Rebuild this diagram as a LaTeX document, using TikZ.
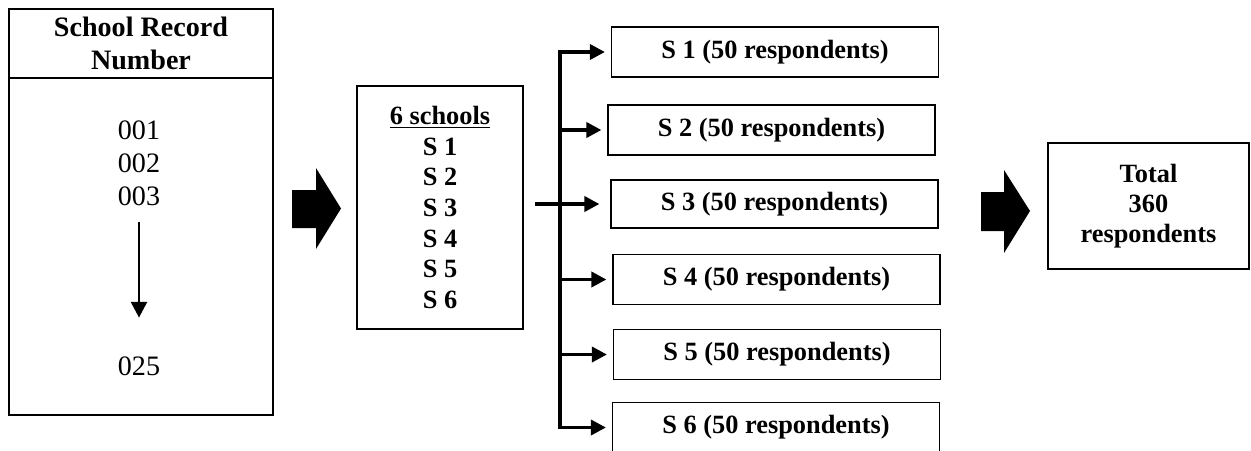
\documentclass[tikz,border=0pt]{standalone}
\usepackage{fontspec}
\setmainfont{Liberation Serif}
\usepackage{tikz}
\usetikzlibrary{arrows.meta,positioning,calc}
\tikzset{
  recbox/.style={rectangle,draw=black,line width=1pt,minimum width=5.28cm,
    inner sep=0pt,align=center},
  numtext/.style={inner sep=0pt,align=center,font=\fontsize{16}{18.7}\selectfont},
  schbox/.style={rectangle,draw=black,line width=0.6pt,minimum width=3.32cm,
    minimum height=4.86cm,align=center,font=\fontsize{15}{17.4}\selectfont\bfseries},
  resbox/.style={rectangle,draw=black,line width=0.7pt,minimum width=6.54cm,
    minimum height=1cm,font=\fontsize{15}{17}\selectfont\bfseries},
  totbox/.style={rectangle,draw=black,line width=0.7pt,minimum width=4.02cm,
    minimum height=2.52cm,align=center,font=\fontsize{15}{17}\selectfont\bfseries},
  brancharr/.style={-{Triangle[length=8.5pt,width=8.5pt]},line width=2pt,shorten >=0.12cm},
  downarr/.style={-{Triangle[length=9pt,width=9pt]},line width=1.7pt},
  bigarr/.style={fill=black},
}

\begin{document}
\begin{tikzpicture}[x=0.02cm, y=-0.02cm]
  \useasboundingbox (0,0) rectangle (1251,450);

  \node[recbox,minimum height=1.38cm,font=\fontsize{16}{18.5}\selectfont\bfseries] (hdr) at (141,43.5) {School Record\\Number};
  \node[recbox,minimum height=6.74cm] (rec) at (141,246.5) {};
  \node[numtext] (first) at (139,163.5) {001\\002\\003};
  \node[numtext] (last) at (139,366) {025};
  \draw[downarr,shorten <=0.31cm,shorten >=0.77cm] (first) -- (last);

  \fill[bigarr] (292,190) -- (316,190) -- (316,168) -- (341,208.5) -- (316,249) -- (316,228) -- (292,228) -- cycle;

  \node[schbox] (sch) at (440,207.5) {\underline{6 schools}\\S 1\\S 2\\S 3\\S 4\\S 5\\S 6};

  \node[resbox] (s1) at (775,52) {S 1 (50 respondents)};
  \node[resbox] (s2) at (771.5,130) {S 2 (50 respondents)};
  \node[resbox,minimum height=0.96cm] (s3) at (774.5,204) {S 3 (50 respondents)};
  \node[resbox] (s4) at (776.5,279.5) {S 4 (50 respondents)};
  \node[resbox] (s5) at (777,354.5) {S 5 (50 respondents)};
  \node[resbox] (s6) at (776,427.5) {S 6 (50 respondents)};

  \coordinate (bus) at (560,0);
  \draw[line width=2pt,line cap=rect] (bus |- s1.west) -- (bus |- s6.west);
  \foreach \s in {s1,s2,s4,s5,s6}
    \draw[brancharr] (bus |- \s.west) -- (\s.west);
  \draw[brancharr,shorten <=0.22cm,shorten >=0.22cm] (sch.east |- s3.west) -- (s3.west);

  \fill[bigarr] (981,192) -- (1004,192) -- (1004,170) -- (1030,211) -- (1004,253) -- (1004,231) -- (981,231) -- cycle;

  \node[totbox] (tot) at (1148.5,206) {Total\\360\\respondents};
\end{tikzpicture}
\end{document}
